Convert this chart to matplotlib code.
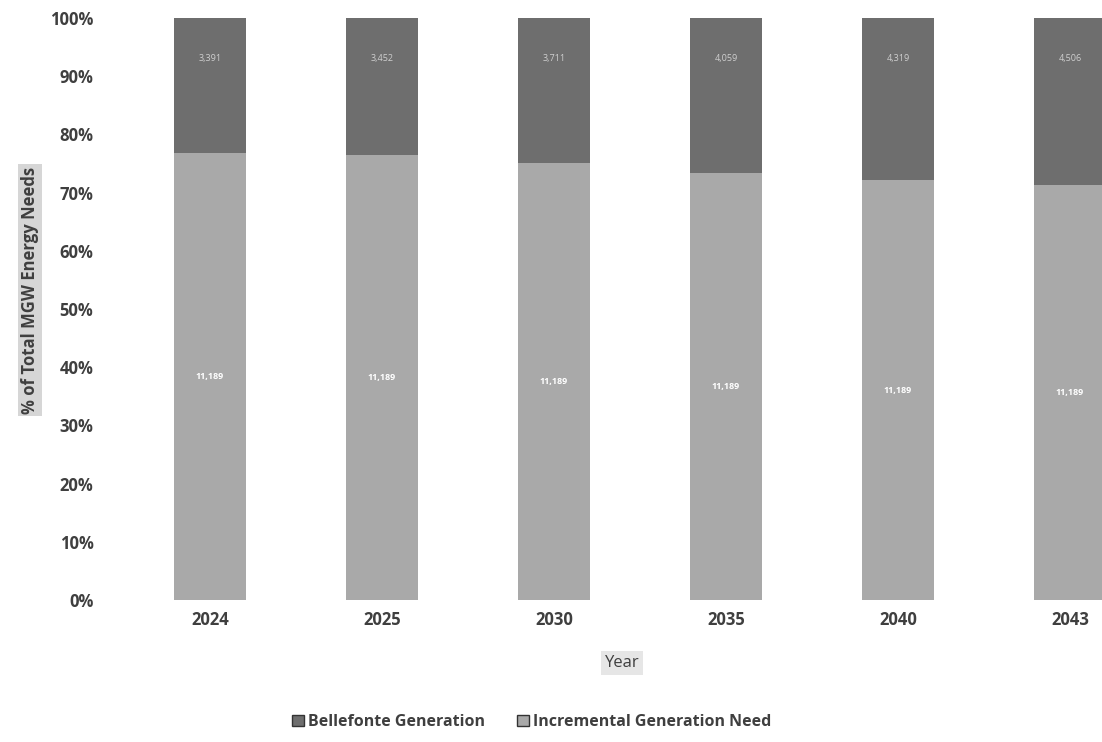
import numpy as np
import matplotlib
matplotlib.use("Agg")
import matplotlib.pyplot as plt
from matplotlib.ticker import PercentFormatter
from matplotlib.patches import Patch

# data (MWh values shown in the bar labels)
years = ['2024', '2025', '2030', '2035', '2040', '2043']
bellefonte = [11189, 11189, 11189, 11189, 11189, 11189]
incremental = [3391, 3452, 3711, 4059, 4319, 4506]

plt.rcParams['font.family'] = ['Open Sans', 'DejaVu Sans']

total = np.array(bellefonte) + np.array(incremental)
bel_pct = np.array(bellefonte) / total
inc_pct = np.array(incremental) / total

c_bel = '#a9a9a9'
c_inc = '#6e6e6e'
txt = '#3f3f3f'

fig = plt.figure(figsize=(11.02, 7.42), dpi=100)
ax = fig.add_axes([124 / 1102, 142 / 742, 1032 / 1102, 582 / 742])

x = np.arange(len(years))
w = 0.42
ax.bar(x, bel_pct, w, color=c_bel, label='Bellefonte Generation')
ax.bar(x, inc_pct, w, bottom=bel_pct, color=c_inc, label='Incremental Generation Need')

for i in range(len(years)):
    ax.text(x[i], bel_pct[i] * 0.5, f'{bellefonte[i]:,}', ha='center', va='center',
            color='white', fontsize=6.5, fontweight='bold')
    ax.text(x[i], 0.93, f'{incremental[i]:,}', ha='center', va='center',
            color='#cfcfcf', fontsize=6.5)

ax.set_xlim(-0.5, 5.5)
ax.set_ylim(0, 1)
ax.set_yticks(np.arange(0, 1.01, 0.1))
ax.yaxis.set_major_formatter(PercentFormatter(1.0, decimals=0))
ax.set_xticks(x)
ax.set_xticklabels(years)
for s in ax.spines.values():
    s.set_visible(False)
ax.tick_params(length=0, labelsize=12, labelcolor=txt)
ax.tick_params(axis='y', pad=22)
ax.tick_params(axis='x', pad=8)
for lab in ax.get_xticklabels() + ax.get_yticklabels():
    lab.set_fontweight('bold')

fig.text(622 / 1102, 1 - 663 / 742, 'Year', ha='center', va='center', fontsize=12,
         color=txt, bbox=dict(facecolor='#e6e6e6', edgecolor='none', pad=3))
fig.text(30 / 1102, 1 - 290 / 742, '% of Total MGW Energy Needs', rotation=90,
         ha='center', va='center', fontsize=12, fontweight='bold', color=txt,
         bbox=dict(facecolor='#d6d6d6', edgecolor='none', pad=2))

handles = [Patch(facecolor=c_inc, edgecolor='#333333'), Patch(facecolor=c_bel, edgecolor='#333333')]
fig.legend(handles, ['Bellefonte Generation', 'Incremental Generation Need'],
           loc='center', bbox_to_anchor=(532 / 1102, 1 - 722 / 742), ncol=2, frameon=False,
           handlelength=0.7, handleheight=0.7, handletextpad=0.3, columnspacing=2.0,
           prop={'size': 11.5, 'weight': 'bold'}, labelcolor=txt)

fig.savefig('out.png', dpi=100)
